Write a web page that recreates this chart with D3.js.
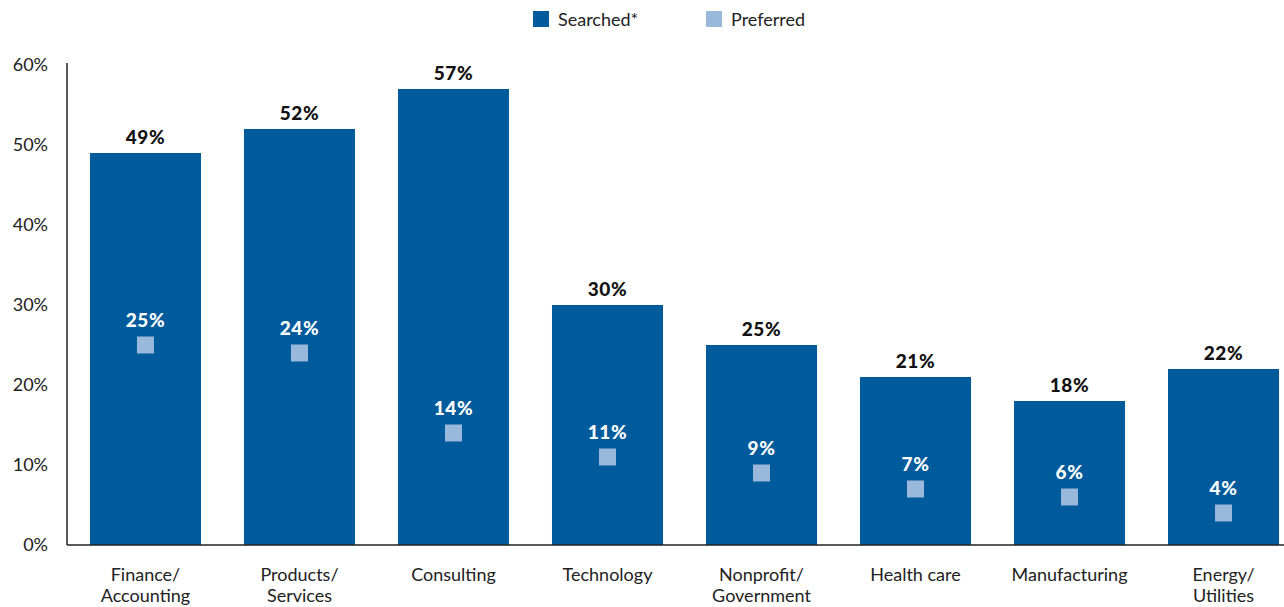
<!DOCTYPE html>
<html>
<head>
<meta charset="utf-8">
<script src="https://cdn.jsdelivr.net/npm/d3@7"></script>
<style>
  html, body { margin: 0; padding: 0; background: #fff; }
  svg { display: block; font-family: "Lato", "Noto Sans", sans-serif; }
</style>
</head>
<body>
<svg id="chart" width="1284" height="607"></svg>
<script>
// Industry categories (label lines)
const categories = [
  ["Finance/", "Accounting"],
  ["Products/", "Services"],
  ["Consulting"],
  ["Technology"],
  ["Nonprofit/", "Government"],
  ["Health care"],
  ["Manufacturing"],
  ["Energy/", "Utilities"]
];
// Share of respondents who searched in each industry (%)
const searched = [49, 52, 57, 30, 25, 21, 18, 22];
// Share who preferred each industry (%)
const preferred = [25, 24, 14, 11, 9, 7, 6, 4];
const yTicks = [0, 10, 20, 30, 40, 50, 60];

const colSearched = "#005b9c";
const colPreferred = "#9ab8dc";

const svg = d3.select("#chart");
const W = 1284;
const plotLeft = 67, plotBottom = 545, plotTop = 65;

const keys = categories.map((c, i) => i);
const x = d3.scaleBand()
  .domain(keys)
  .range([plotLeft, 1302])
  .paddingInner(0.279)
  .paddingOuter(0.149);

const y = d3.scaleLinear().domain([0, 60]).range([plotBottom, plotTop]);

// Searched bars
svg.append("g").selectAll("rect")
  .data(searched)
  .join("rect")
  .attr("x", (d, i) => x(i))
  .attr("y", d => y(d))
  .attr("width", x.bandwidth())
  .attr("height", d => y(0) - y(d))
  .attr("fill", colSearched);

// Value labels above bars
svg.append("g").selectAll("text")
  .data(searched)
  .join("text")
  .attr("x", (d, i) => x(i) + x.bandwidth() / 2)
  .attr("y", d => y(d) - 9)
  .attr("text-anchor", "middle")
  .attr("font-size", 19)
  .attr("font-weight", 900)
  .attr("letter-spacing", 0.6)
  .attr("fill", "#111")
  .text(d => d + "%");

// Preferred markers
const sq = 17;
svg.append("g").selectAll("rect")
  .data(preferred)
  .join("rect")
  .attr("x", (d, i) => x(i) + x.bandwidth() / 2 - sq / 2)
  .attr("y", d => y(d) - sq / 2)
  .attr("width", sq)
  .attr("height", sq)
  .attr("fill", colPreferred);

svg.append("g").selectAll("text")
  .data(preferred)
  .join("text")
  .attr("x", (d, i) => x(i) + x.bandwidth() / 2)
  .attr("y", d => y(d) - sq / 2 - 10)
  .attr("text-anchor", "middle")
  .attr("font-size", 19)
  .attr("font-weight", 900)
  .attr("letter-spacing", 0.6)
  .attr("fill", "#fff")
  .text(d => d + "%");

// Y axis
const yAxis = d3.axisLeft(y).tickValues(yTicks).tickFormat(d => d + "%").tickSize(0).tickPadding(19);
const gy = svg.append("g").attr("transform", `translate(${plotLeft},0)`).call(yAxis);
gy.select(".domain").attr("stroke", "#222").attr("stroke-width", 1.5).attr("d", `M0,${plotTop - 2}V${plotBottom}`);
gy.selectAll("text").attr("font-size", 18).attr("fill", "#222").attr("font-family", "Lato, sans-serif");

// X axis
const xAxis = d3.axisBottom(x).tickSize(0).tickFormat("");
const gx = svg.append("g").attr("transform", `translate(0,${plotBottom})`).call(xAxis);
gx.select(".domain").attr("stroke", "#222").attr("stroke-width", 1.5).attr("d", `M${plotLeft},0H${W}`);

// Category labels
const cl = svg.append("g").selectAll("text")
  .data(categories)
  .join("text")
  .attr("x", (d, i) => x(i) + x.bandwidth() / 2)
  .attr("y", 581)
  .attr("text-anchor", "middle")
  .attr("font-size", 18)
  .attr("fill", "#222");
cl.selectAll("tspan")
  .data(d => d)
  .join("tspan")
  .attr("x", function () { return d3.select(this.parentNode).attr("x"); })
  .attr("dy", (d, j) => j === 0 ? 0 : 21)
  .text(d => d);

// Legend
const legend = [
  { label: "Searched*", color: colSearched, x: 533 },
  { label: "Preferred", color: colPreferred, x: 706 }
];
const lg = svg.append("g").selectAll("g").data(legend).join("g")
  .attr("transform", d => `translate(${d.x},11)`);
lg.append("rect").attr("width", 16).attr("height", 16).attr("fill", d => d.color);
lg.append("text").attr("x", 25).attr("y", 15).attr("font-size", 18).attr("fill", "#222").text(d => d.label);
</script>
</body>
</html>
